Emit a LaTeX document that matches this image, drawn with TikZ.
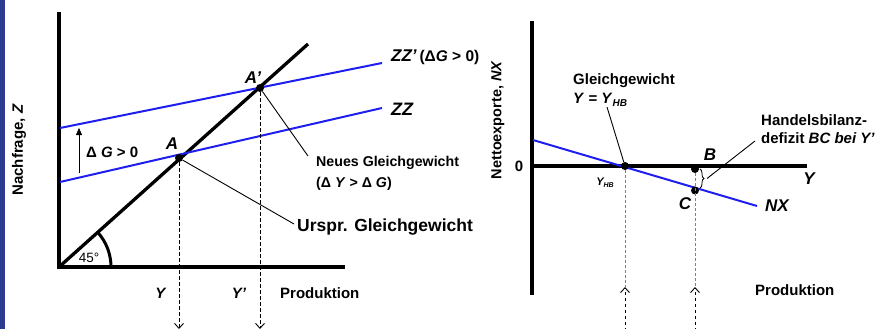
\documentclass[tikz,border=0pt]{standalone}
\usepackage{fontspec}
\setmainfont{Liberation Sans}
\usetikzlibrary{arrows.meta,decorations.pathreplacing}
\definecolor{stripblue}{RGB}{44,58,144}
\definecolor{lineblue}{RGB}{30,30,240}
\begin{document}
\begin{tikzpicture}[x=1pt,y=-1pt,
  axis/.style={line width=4pt},
  curve/.style={lineblue,line width=2pt},
  lead/.style={line width=0.9pt},
  dot/.style={circle,fill=black,inner sep=0pt,minimum size=8pt},
  proj/.style={line width=0.9pt,dash pattern=on 3.5pt off 2.5pt},
  projg/.style={gray,line width=0.9pt,dash pattern=on 2.5pt off 2.5pt},
  openarrow/.style={-{Straight Barb[length=5pt,width=9pt,line width=0.9pt]}},
  lbl/.style={font=\bfseries\fontsize{15}{17}\selectfont,inner sep=0pt},
  lblit/.style={font=\bfseries\itshape\fontsize{17}{19}\selectfont,inner sep=0pt}
]
\useasboundingbox (0,0) rectangle (876,329);
\fill[stripblue] (0,0) rectangle (4.5,329);

% ---------------- left panel ----------------
\coordinate (O) at (59,267);
\draw[line width=3.3pt] (O) -- (308,44);
\draw[axis] (59,12) -- (O) -- (345,267);
\draw[line width=3pt] (111,267) arc[start angle=0,end angle=-41.8,radius=52];
\node[font=\fontsize{13.5}{15}\selectfont,inner sep=0pt] at (89,258) {45°};

\draw[curve] (60,182) -- (382,108);
\draw[curve] (60,128) -- (382,63);
\node[dot] (A) at (179,158) {};
\node[dot] (A2) at (260,88) {};
\node[lblit] at (172,144) {A};
\node[lblit] at (253,78) {A'};
\node[lblit,font=\bfseries\itshape\fontsize{18}{20}\selectfont,anchor=west] at (391,109) {ZZ};
\node[lblit,anchor=west] at (391,57) {ZZ'\,\normalfont\bfseries\fontsize{15.5}{17}\selectfont(Δ\textit{G} > 0)};

\coordinate (dgb) at (79,173);
\coordinate (dgt) at (79,128);
\draw[line width=0.5pt,-{Triangle[length=7pt,width=6pt]}] (dgb) -- (dgt);
\node[lbl,anchor=west] at (86,152) {Δ \textit{G} > 0};

\node[lbl,rotate=90] at (19,150) {Nachfrage, \textit{Z}};

\coordinate (A3) at (179,329);
\coordinate (A4) at (260,329);
\draw[proj,openarrow] (A) -- (A3);
\draw[proj,openarrow] (A2) -- (A4);

\node[lbl] at (161,293) {\textit{Y}};
\node[lbl] at (239,293) {\textit{Y'}};
\node[lbl,anchor=west] at (280,293) {Produktion};

\node[font=\bfseries\fontsize{17.5}{20}\selectfont,inner sep=0pt,anchor=base west] (urs) at (297,231) {Urspr. Gleichgewicht};
\coordinate (ursl) at (294,224);
\draw[lead] (A) -- (ursl);
\node[lbl,font=\bfseries\fontsize{14.2}{16}\selectfont,anchor=base west] (neu) at (316,166) {Neues Gleichgewicht};
\node[lbl,font=\bfseries\fontsize{14.2}{16}\selectfont,anchor=base west] (neu2) at (316,187) {(Δ \textit{Y} > Δ \textit{G})};
\coordinate (neut) at (308,156);
\draw[lead] (A2) -- (neut);

% ---------------- right panel ----------------
\draw[axis] (532,21) -- (532,295);
\draw[axis] (530,166) -- (807,166);
\draw[curve] (533,140) -- (757,206);
\node[lbl] at (519,166) {0};
\node[lbl,font=\bfseries\fontsize{14.5}{16}\selectfont,rotate=90] at (498,120) {Nettoexporte, \textit{NX}};

\node[dot] (E) at (625,166) {};
\node[dot] (B) at (695,169) {};
\node[dot] (C) at (695,190.5) {};

\coordinate (E1) at (625,287);
\coordinate (E2) at (625,331);
\coordinate (B1) at (695,287);
\coordinate (B2) at (695,331);
\draw[projg] (E) -- (E1);
\draw[projg] (B) -- (B1);
\draw[proj,openarrow] (E2) -- (E1);
\draw[proj,openarrow] (B2) -- (B1);

\draw[line width=0.8pt,decorate,decoration={brace,amplitude=4pt}] (700,169) -- (700,188);
\coordinate (brt) at (707,178.5);
\coordinate (hbt) at (755,141);
\draw[lead] (brt) -- (hbt);

\node[lblit] at (710,155) {B};
\node[lblit] at (685,204) {C};
\node[lblit] at (809,179) {Y};
\node[lblit,anchor=west] at (765,206) {NX};
\node[font=\bfseries\itshape\fontsize{11}{12}\selectfont,inner sep=0pt] at (605,183) {Y\raisebox{-2pt}{\fontsize{7}{8}\selectfont HB}};

\node[lbl,anchor=base west] (gg) at (573,84.5) {Gleichgewicht};
\node[lbl,anchor=base west] (gg2) at (573,103) {\textit{Y} = \textit{Y}\raisebox{-3pt}{\fontsize{10}{11}\selectfont\textit{HB}}};
\coordinate (ggb) at (607,107);
\draw[lead] (ggb) -- (E);

\node[lbl,anchor=base west] at (761,125.5) {Handelsbilanz-};
\node[lbl,anchor=base west] at (761,143.5) {defizit \textit{BC bei Y'}};
\node[lbl,anchor=west] at (755,290) {Produktion};
\end{tikzpicture}
\end{document}
